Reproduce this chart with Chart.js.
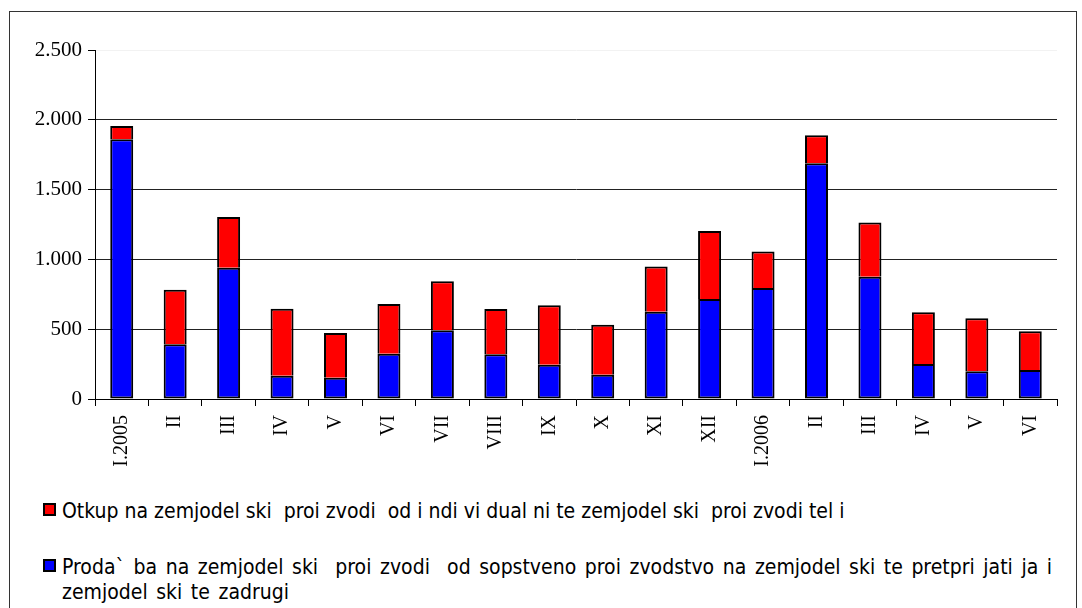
<!DOCTYPE html>
<html>
<head>
<meta charset="utf-8">
<script src="https://cdn.jsdelivr.net/npm/chart.js@4/dist/chart.umd.min.js"></script>
<style>
  body { margin: 0; background: #fff; width: 1082px; height: 608px; overflow: hidden; position: relative; }
  #frame { position: absolute; left: 9px; top: 11px; width: 1066px; height: 640px; border: 1px solid #333; }
  #c { position: absolute; left: 0; top: 0; }
  .leg { position: absolute; left: 43px; font-family: "DejaVu Sans Condensed", "DejaVu Sans", sans-serif; font-size: 21px; color: #000; line-height: 25px; white-space: pre; }
  .sw { position: absolute; left: 0; top: 4px; width: 9px; height: 9px; border: 2px solid #000; }
  .txt { margin-left: 19px; }
</style>
</head>
<body>
<div id="frame"></div>
<canvas id="c" width="1082" height="470"></canvas>
<div class="leg" style="top:499px"><span class="sw" style="background:#ff0000"></span><div class="txt">Otkup na zemjodel ski  proi zvodi  od i ndi vi dual ni te zemjodel ski  proi zvodi tel i</div></div>
<div class="leg" style="top:555px; word-spacing:2.6px"><span class="sw" style="background:#0000ff"></span><div class="txt">Proda` ba na zemjodel ski  proi zvodi  od sopstveno proi zvodstvo na zemjodel ski te pretpri jati ja i
zemjodel ski te zadrugi</div></div>
<script>
// months, jan 2005 - jun 2006
const categories = ['I.2005','II','III','IV','V','VI','VII','VIII','IX','X','XI','XII','I.2006','II','III','IV','V','VI']
// blue part (bottom)
const prodazba = [1860,392,940,167,153,324,492,320,246,174,625,716,795,1688,876,251,198,208]
// red part (top)
const otkup = [95,390,363,480,320,356,351,324,425,358,325,487,262,202,389,370,380,277]
const yTicks = [0,500,1000,1500,2000,2500]

function fmt(v){
    return String(v).replace(/\B(?=(\d{3})+(?!\d))/g, '.')
}

new Chart(document.getElementById('c').getContext('2d'), {
    type: 'bar',
    data: {
        labels: categories,
        datasets: [{
            label: 'Proda` ba na zemjodel ski proi zvodi od sopstveno proi zvodstvo na zemjodel ski te pretpri jati ja i zemjodel ski te zadrugi',
            data: prodazba,
            backgroundColor: '#0000ff',
            borderColor: '#000',
            borderWidth: 2,
            borderSkipped: false,
            barPercentage: 0.43,
            categoryPercentage: 1
        },{
            label: 'Otkup na zemjodel ski proi zvodi od i ndi vi dual ni te zemjodel ski proi zvodi tel i',
            data: otkup,
            backgroundColor: '#ff0000',
            borderColor: '#000',
            borderWidth: 2,
            borderSkipped: 'bottom',
            barPercentage: 0.43,
            categoryPercentage: 1
        }]
    },
    options: {
        responsive: false,
        animation: false,
        layout: { padding: { top: 50, right: 25, left: 0, bottom: 0 } },
        plugins: { legend: { display: false }, tooltip: { enabled: false } },
        scales: {
            x: {
                stacked: true,
                afterFit: (s) => { s.height = 71 },
                grid: { drawOnChartArea: false, offset: true, tickLength: 7, color: '#000', tickColor: '#000' },
                border: { display: true, color: '#000', width: 1 },
                ticks: {
                    autoSkip: false, minRotation: 90, maxRotation: 90, padding: 9,
                    color: '#000', font: { family: 'Liberation Serif', size: 20 }
                }
            },
            y: {
                stacked: true,
                min: 0, max: 2500,
                afterFit: (s) => { s.width = 95 },
                afterBuildTicks: (s) => { s.ticks = yTicks.map(v => ({ value: v })) },
                grid: {
                    tickLength: 7,
                    tickColor: '#000',
                    color: (ctx) => ctx.tick && ctx.tick.value === 2500 ? '#f2f2f2' : '#222'
                },
                border: { display: true, color: '#000', width: 1 },
                ticks: {
                    padding: 6, color: '#000',
                    font: { family: 'Liberation Serif', size: 21 },
                    callback: (v) => fmt(v)
                }
            }
        }
    }
})
</script>
</body>
</html>
